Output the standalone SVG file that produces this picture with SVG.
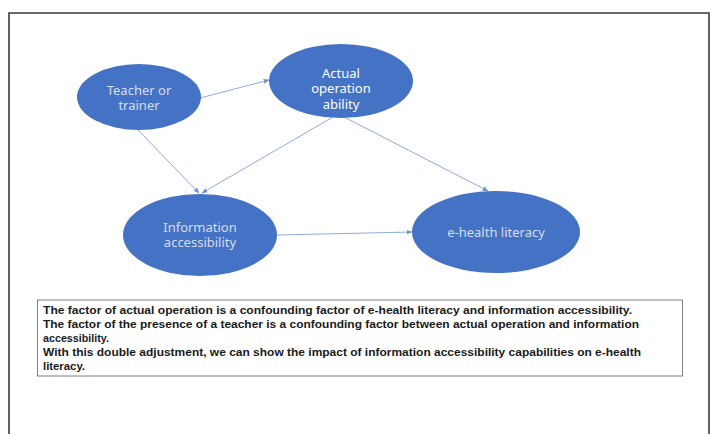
<svg xmlns="http://www.w3.org/2000/svg" width="712" height="434" viewBox="0 0 712 434">
  <style>
    .node { fill: #4472c4; }
    .label { font-family: "Noto Sans", "Liberation Sans", sans-serif; font-size: 13px; fill: #d6deef; text-anchor: middle; }
    .label.bright { fill: #ffffff; }
    .edge { stroke: #8faadc; stroke-width: 1; fill: none; marker-end: url(#arrow); }
    .note { font-family: "Liberation Sans", Arial, sans-serif; font-size: 11.2px; font-weight: bold; fill: #1a1a1a; }
  </style>
  <defs>
    <marker id="arrow" viewBox="0 0 10 10" refX="9" refY="5" markerWidth="6" markerHeight="6" orient="auto" markerUnits="userSpaceOnUse">
      <path d="M0,1 L10,5 L0,9 Z" fill="#6f8fcf"/>
    </marker>
  </defs>

  <rect width="712" height="434" fill="#ffffff"/>
  <!-- outer frame (open at the bottom) -->
  <path d="M9,434 V13 H709 V434" fill="none" stroke="#3a3a3a" stroke-width="1.6"/>

  <g id="connectors">
    <line class="edge" x1="200" y1="98" x2="269" y2="80"/>
    <line class="edge" x1="138" y1="130" x2="199" y2="193"/>
    <line class="edge" x1="333" y1="117" x2="202" y2="193"/>
    <line class="edge" x1="344" y1="117" x2="488" y2="191"/>
    <line class="edge" x1="277" y1="235" x2="412" y2="232"/>
  </g>

  <g id="teacher">
    <ellipse class="node" cx="139" cy="97" rx="62" ry="33"/>
    <text class="label" x="139" y="94.5">Teacher or</text>
    <text class="label" x="139" y="110">trainer</text>
  </g>

  <g id="actual-operation">
    <ellipse class="node" cx="341" cy="81" rx="72" ry="37"/>
    <text class="label bright" x="341" y="77.5">Actual</text>
    <text class="label bright" x="341" y="93">operation</text>
    <text class="label bright" x="341" y="108.5">ability</text>
  </g>

  <g id="information-accessibility">
    <ellipse class="node" cx="200" cy="235" rx="77" ry="41"/>
    <text class="label" x="200" y="231.5">Information</text>
    <text class="label" x="200" y="247">accessibility</text>
  </g>

  <g id="e-health-literacy">
    <ellipse class="node" cx="496" cy="232" rx="84" ry="41"/>
    <text class="label" x="496" y="236.5">e-health literacy</text>
  </g>

  <g id="note">
    <rect x="37.5" y="300" width="645" height="76" fill="#ffffff" stroke="#7f7f7f" stroke-width="1"/>
    <text class="note" x="43" y="313.5" textLength="589" lengthAdjust="spacingAndGlyphs">The factor of actual operation is a confounding factor of e-health literacy and information accessibility.</text>
    <text class="note" x="43" y="327.5" textLength="596" lengthAdjust="spacingAndGlyphs">The factor of the presence of a teacher is a confounding factor between actual operation and information</text>
    <text class="note" x="43" y="341.5" textLength="66" lengthAdjust="spacingAndGlyphs">accessibility.</text>
    <text class="note" x="43" y="355.5" textLength="598" lengthAdjust="spacingAndGlyphs">With this double adjustment, we can show the impact of information accessibility capabilities on e-health</text>
    <text class="note" x="43" y="369.5" textLength="42" lengthAdjust="spacingAndGlyphs">literacy.</text>
  </g>
</svg>
